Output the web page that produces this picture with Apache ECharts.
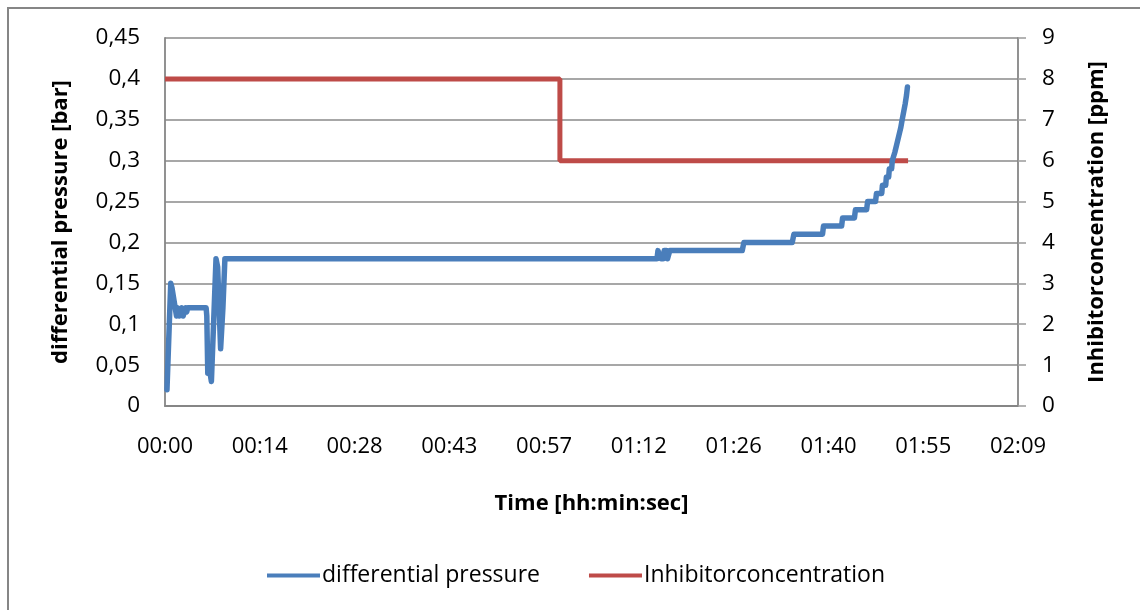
<!DOCTYPE html>
<html>
<head>
<meta charset="utf-8">
<script src="https://cdn.jsdelivr.net/npm/echarts@6/dist/echarts.min.js"></script>
<style>html,body{margin:0;padding:0;background:#fff}#c{width:1140px;height:610px}</style>
</head>
<body>
<div id="c"></div>
<script>
// time in minutes
const xTickLabels = ['00:00','00:14','00:28','00:43','00:57','01:12','01:26','01:40','01:55','02:09'];
const leftTickLabels = ['0','0,05','0,1','0,15','0,2','0,25','0,3','0,35','0,4','0,45'];
const rightTickLabels = ['0','1','2','3','4','5','6','7','8','9'];

const pressureTime = [0.3, 0.45, 0.87, 1.05, 1.75, 1.95, 2.15, 2.4, 2.55, 2.75, 2.95, 3.15, 3.3, 3.45,
  6.25, 6.35, 6.5, 6.7, 6.85, 7.05, 7.2, 7.75, 8.0, 8.45, 8.8, 9.1,
  74.75, 74.9, 75.2, 75.35, 75.7, 75.85, 76.2, 76.35, 76.7,
  87.7, 87.95, 95.3, 95.55, 99.9, 100.05, 102.8, 102.95, 104.75, 104.9, 106.6, 106.75,
  107.95, 108.1, 108.9, 109.0, 109.5, 109.6, 109.95, 110.05, 110.4, 110.5, 110.8, 110.88,
  111.1, 111.18, 111.4, 111.48, 111.7, 111.78, 111.93, 112.0, 112.17, 112.24, 112.4, 112.47,
  112.6, 112.66, 112.8];
const pressureValue = [0.02, 0.02, 0.15, 0.145, 0.11, 0.12, 0.11, 0.11, 0.12, 0.11, 0.11, 0.12, 0.115, 0.12,
  0.12, 0.11, 0.04, 0.05, 0.04, 0.03, 0.03, 0.18, 0.17, 0.07, 0.12, 0.18,
  0.18, 0.19, 0.19, 0.18, 0.18, 0.19, 0.19, 0.18, 0.19,
  0.19, 0.20, 0.20, 0.21, 0.21, 0.22, 0.22, 0.23, 0.23, 0.24, 0.24, 0.25,
  0.25, 0.26, 0.26, 0.27, 0.27, 0.28, 0.28, 0.29, 0.29, 0.30, 0.30, 0.31,
  0.31, 0.32, 0.32, 0.33, 0.33, 0.34, 0.34, 0.35, 0.35, 0.36, 0.36, 0.37,
  0.37, 0.38, 0.39];

const inhibTime = [0, 60.0, 60.0, 112.9];
const inhibValue = [8, 8, 6, 6];

const FONT = '"Open Sans", "Noto Sans", sans-serif';
const gray = '#868686';

const chart = echarts.init(document.getElementById('c'), null, {renderer: 'canvas'});
chart.setOption({
  animation: false,
  backgroundColor: '#fff',
  textStyle: {fontFamily: FONT},
  graphic: [{
    type: 'rect', silent: true, z: -1,
    shape: {x: 8, y: 8, width: 1300, height: 800},
    style: {fill: 'none', stroke: gray, lineWidth: 2}
  }],
  grid: {left: 165, right: 122, top: 38, bottom: 204, containLabel: false},
  legend: {
    left: 262, top: 559,
    itemWidth: 53, itemHeight: 4, itemGap: 49,
    icon: 'rect',
    textStyle: {fontFamily: FONT, fontSize: 23, color: '#000', padding: [0, 0, 0, -3]},
    data: ['differential pressure', 'Inhibitorconcentration']
  },
  xAxis: {
    type: 'value', min: 0, max: 129.6, interval: 14.4,
    name: 'Time [hh:min:sec]', nameLocation: 'middle', nameGap: 87,
    nameTextStyle: {fontFamily: FONT, fontSize: 22, fontWeight: 'bold', color: '#000'},
    axisLine: {show: true, lineStyle: {color: gray, width: 1.8}},
    axisTick: {show: false},
    splitLine: {show: false},
    axisLabel: {
      margin: 30, fontFamily: FONT, fontSize: 22, color: '#000',
      formatter: v => xTickLabels[Math.round(v / 14.4)]
    }
  },
  yAxis: [{
    type: 'value', min: 0, max: 0.45, interval: 0.05, position: 'left',
    name: 'differential pressure [bar]', nameLocation: 'middle', nameGap: 93, nameRotate: 90,
    nameTextStyle: {fontFamily: FONT, fontSize: 22, fontWeight: 'bold', color: '#000'},
    axisLine: {show: true, lineStyle: {color: gray, width: 1.8}},
    axisTick: {show: false},
    splitLine: {show: true, lineStyle: {color: '#8a8a8a', width: 1.6}},
    axisLabel: {
      margin: 25, fontFamily: FONT, fontSize: 22.5, color: '#000',
      formatter: v => leftTickLabels[Math.round(v / 0.05)]
    }
  }, {
    type: 'value', min: 0, max: 9, interval: 1, position: 'right',
    name: 'Inhibitorconcentration [ppm]', nameLocation: 'middle', nameGap: 68, nameRotate: 90,
    nameTextStyle: {fontFamily: FONT, fontSize: 22, fontWeight: 'bold', color: '#000'},
    axisLine: {show: true, lineStyle: {color: gray, width: 1.8}},
    axisTick: {show: true, inside: false, length: 8, lineStyle: {color: '#a0a0a0', width: 1.6}},
    splitLine: {show: false},
    axisLabel: {
      margin: 24, fontFamily: FONT, fontSize: 22.5, color: '#000',
      formatter: v => rightTickLabels[Math.round(v)]
    }
  }],
  series: [{
    name: 'differential pressure', type: 'line', yAxisIndex: 0,
    data: pressureTime.map((t, i) => [t, pressureValue[i]]),
    showSymbol: false, symbol: 'none',
    lineStyle: {color: '#4a7ebb', width: 5.5, join: 'round', cap: 'round'},
    itemStyle: {color: '#4a7ebb'}, z: 3
  }, {
    name: 'Inhibitorconcentration', type: 'line', yAxisIndex: 1,
    data: inhibTime.map((t, i) => [t, inhibValue[i]]),
    showSymbol: false, symbol: 'none',
    lineStyle: {color: '#be4b48', width: 5},
    itemStyle: {color: '#be4b48'}, z: 2
  }]
});
</script>
</body>
</html>
